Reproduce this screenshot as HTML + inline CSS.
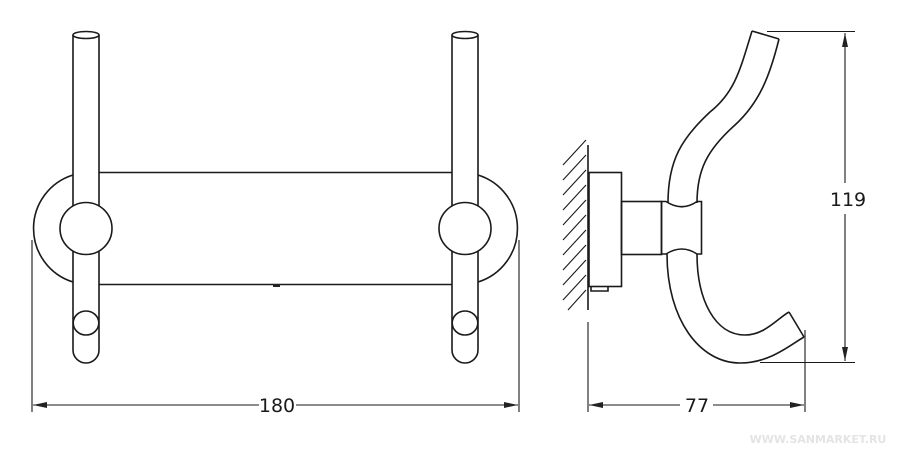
<!DOCTYPE html>
<html><head><meta charset="utf-8"><style>
html,body{margin:0;padding:0;background:#fff}
svg{display:block}
text{font-family:"DejaVu Sans","Liberation Sans",sans-serif}
</style></head><body>
<svg width="898" height="453" viewBox="0 0 898 453" xmlns="http://www.w3.org/2000/svg">
<defs>
<marker id="a" markerWidth="14" markerHeight="8" refX="14" refY="4" orient="auto" markerUnits="userSpaceOnUse">
<path d="M0,1 L14,4 L0,7 Z" fill="#222"/></marker>
</defs>
<g fill="none" stroke="#1a1a1a" stroke-width="1.6">
<line x1="99" y1="172.5" x2="452" y2="172.5"/>
<line x1="99" y1="284.5" x2="452" y2="284.5"/>
<path d="M73,175 A56,56 0 0 0 73,282"/>
<path d="M478,175 A56,56 0 0 1 478,282"/>
<path d="M73,35 V350 A13,13 0 0 0 99,350 V35"/>
<ellipse cx="86" cy="35" rx="13" ry="3.5" fill="#fff"/>
<path d="M452,35 V350 A13,13 0 0 0 478,350 V35"/>
<ellipse cx="465" cy="35" rx="13" ry="3.5" fill="#fff"/>
<circle cx="86" cy="228.5" r="26" fill="#fff"/>
<circle cx="465" cy="228.5" r="26" fill="#fff"/>
<ellipse cx="86" cy="323" rx="12.8" ry="12" fill="#fff"/>
<ellipse cx="465" cy="323" rx="12.8" ry="12" fill="#fff"/>
<line x1="32" y1="240" x2="32" y2="412" stroke-width="1.1"/>
<line x1="519" y1="240" x2="519" y2="412" stroke-width="1.1"/>
<line x1="259" y1="405" x2="33" y2="405" stroke-width="1.1" marker-end="url(#a)"/>
<line x1="296" y1="405" x2="518" y2="405" stroke-width="1.1" marker-end="url(#a)"/>

<line x1="588" y1="145" x2="588" y2="310"/>
<g stroke-width="1.1">
<line x1="563" y1="165" x2="586" y2="140"/>
<line x1="563" y1="180" x2="586" y2="155"/>
<line x1="563" y1="195" x2="586" y2="170"/>
<line x1="563" y1="210" x2="586" y2="185"/>
<line x1="563" y1="225" x2="586" y2="200"/>
<line x1="563" y1="240" x2="586" y2="215"/>
<line x1="563" y1="255" x2="586" y2="230"/>
<line x1="563" y1="270" x2="586" y2="245"/>
<line x1="563" y1="285" x2="586" y2="260"/>
<line x1="563" y1="300" x2="586" y2="275"/>
<line x1="568" y1="310" x2="586" y2="290"/>
</g>
<rect x="589" y="172.5" width="32.5" height="114"/>
<path d="M591,286.5 V291 H608 V286.5"/>
<rect x="621.5" y="201.5" width="40" height="53"/>
<path d="M661.5,201.5 H666 Q682,212 697,201.5 H701.5 V254 H697 Q682,244 666,254 H661.5 Z"/>
<path d="M752,31 C740,70 735,92 710,112 C682,138 668,160 668,203"/>
<path d="M779,39 C770,75 760,102 735,125 C707,150 697,170 697,203"/>
<line x1="752" y1="31" x2="779" y2="39"/>
<path d="M667,254 C667,320 700,363 740,363 C770,363 790,345 804,337"/>
<path d="M697,254 C697,300 715,335 745,335 C765,335 778,318 789,312"/>
<line x1="789" y1="312" x2="804" y2="337"/>
<g stroke-width="1.1">
<line x1="767" y1="31.5" x2="855" y2="31.5"/>
<line x1="760" y1="362.5" x2="855" y2="362.5"/>
<line x1="845" y1="183" x2="845" y2="33" marker-end="url(#a)"/>
<line x1="845" y1="214" x2="845" y2="361" marker-end="url(#a)"/>
<line x1="588" y1="322" x2="588" y2="412"/>
<line x1="805" y1="330" x2="805" y2="412"/>
<line x1="680" y1="405" x2="589" y2="405" marker-end="url(#a)"/>
<line x1="713" y1="405" x2="804" y2="405" marker-end="url(#a)"/>
</g>
</g>
<g fill="#1a1a1a" font-size="19" text-anchor="middle">
<text x="277" y="412">180</text>
<text x="697" y="412">77</text>
<text x="848" y="206">119</text>
</g>
<rect x="273" y="284" width="7" height="3" fill="#222"/>
<text x="818" y="443" font-size="11" fill="#e4e4e4" text-anchor="middle" font-weight="bold">WWW.SANMARKET.RU</text>
</svg>
</body></html>
